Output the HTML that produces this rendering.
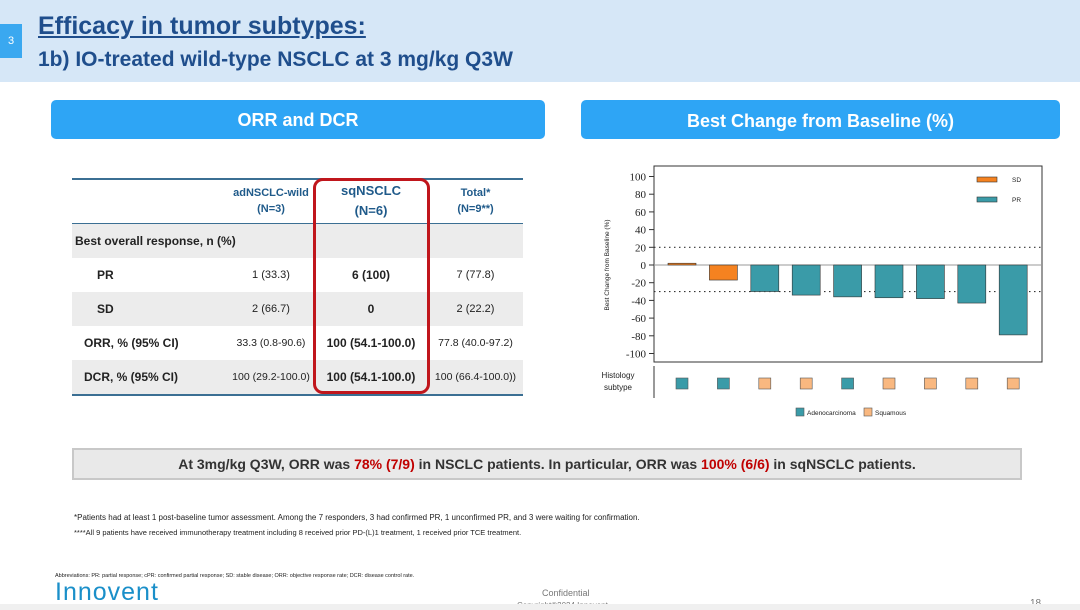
<!DOCTYPE html>
<html><head><meta charset="utf-8"><style>
body{margin:0;width:1080px;height:610px;background:#fff;position:relative;overflow:hidden;font-family:"Liberation Sans",sans-serif}
.abs{position:absolute}
.hdr{left:0;top:0;width:1080px;height:82px;background:#d6e7f7}
.btn{background:#2ea5f5;color:#fff;font-weight:bold;font-size:18px;text-align:center;border-radius:5px}
table{border-collapse:collapse;font-size:12px;color:#222}
td{padding:0;height:34px}
</style></head><body>
<div class="abs hdr"></div>
<div class="abs" style="left:0;top:24px;width:22px;height:34px;background:#3aa8f0;color:#fff;font-size:11px;line-height:34px;text-align:center">3</div>
<div class="abs" style="left:38px;top:12px;font-size:25px;font-weight:bold;color:#1f4e8c;text-decoration:underline">Efficacy in tumor subtypes:</div>
<div class="abs" style="left:38px;top:48px;font-size:21px;font-weight:bold;color:#1f4e8c">1b) IO-treated wild-type NSCLC at 3 mg/kg Q3W</div>
<div class="abs btn" style="left:51px;top:100px;width:494px;height:39px;line-height:41px">ORR and DCR</div>
<div class="abs btn" style="left:581px;top:100px;width:479px;height:39px;line-height:43px">Best Change from Baseline (%)</div>

<table class="abs" style="left:72px;top:178px;width:451px;border-top:2px solid #3b6f93;border-bottom:2px solid #3b6f93">
<colgroup><col style="width:156px"><col style="width:86px"><col style="width:114px"><col style="width:95px"></colgroup>
<tr style="height:44px;border-bottom:1px solid #3b6f93;color:#1f5a8a;font-weight:bold;text-align:center"><td></td><td style="font-size:11px;line-height:16px">adNSCLC-wild<br>(N=3)</td><td style="font-size:13px;line-height:20px">sqNSCLC<br>(N=6)</td><td style="font-size:11px;line-height:16px">Total*<br>(N=9**)</td></tr>
<tr style="background:#ececec;height:30px"><td colspan="4" style="font-weight:bold;padding-left:3px">Best overall response, n (%)</td></tr>
<tr><td style="font-weight:bold;padding-left:25px">PR</td><td style="text-align:center;font-size:11px">1 (33.3)</td><td style="text-align:center;font-weight:bold">6 (100)</td><td style="text-align:center;font-size:11px">7 (77.8)</td></tr>
<tr style="background:#ececec"><td style="font-weight:bold;padding-left:25px">SD</td><td style="text-align:center;font-size:11px">2 (66.7)</td><td style="text-align:center;font-weight:bold">0</td><td style="text-align:center;font-size:11px">2 (22.2)</td></tr>
<tr><td style="font-weight:bold;padding-left:12px">ORR, % (95% CI)</td><td style="text-align:center;font-size:10.5px">33.3 (0.8-90.6)</td><td style="text-align:center;font-weight:bold">100 (54.1-100.0)</td><td style="text-align:center;font-size:10.5px">77.8 (40.0-97.2)</td></tr>
<tr style="background:#ececec"><td style="font-weight:bold;padding-left:12px">DCR, % (95% CI)</td><td style="text-align:center;font-size:10.5px">100 (29.2-100.0)</td><td style="text-align:center;font-weight:bold">100 (54.1-100.0)</td><td style="text-align:center;font-size:10.5px">100 (66.4-100.0))</td></tr>
</table>
<div class="abs" style="left:313px;top:178px;width:111px;height:210px;border:3px solid #c0161c;border-radius:10px"></div>

<svg class="abs" style="left:590px;top:160px" width="460" height="270" id="chart"></svg>

<div class="abs" style="left:72px;top:448px;width:946px;height:28px;background:#e9e9e9;border:2px solid #c8c8c8;text-align:center;line-height:28px;font-size:14px;font-weight:bold;color:#333">At 3mg/kg Q3W, ORR was <span style="color:#c00000">78% (7/9)</span> in NSCLC patients. In particular, ORR was <span style="color:#c00000">100% (6/6)</span> in sqNSCLC patients.</div>
<div class="abs" style="left:74px;top:513px;font-size:8px;color:#222">*Patients had at least 1 post-baseline tumor assessment. Among the 7 responders, 3 had confirmed PR, 1 unconfirmed PR, and 3 were waiting for confirmation.</div>
<div class="abs" style="left:74px;top:528px;font-size:7.5px;color:#222">****All 9 patients have received immunotherapy treatment including 8 received prior PD-(L)1 treatment, 1 received prior TCE treatment.</div>
<div class="abs" style="left:55px;top:573px;font-size:5.5px;color:#222">Abbreviations: PR: partial response; cPR: confirmed partial response; SD: stable disease; ORR: objective response rate; DCR: disease control rate.</div>
<div class="abs" style="left:55px;top:578px;font-size:25px;color:#1a8fc9;letter-spacing:1px">Innovent</div>
<div class="abs" style="left:542px;top:588px;font-size:9px;color:#777">Confidential</div>
<div class="abs" style="left:517px;top:601px;font-size:8px;color:#777">Copyright©2024 Innovent</div>
<div class="abs" style="left:1030px;top:598px;font-size:10px;color:#777">18</div>
<div class="abs" style="left:0;top:604px;width:1080px;height:6px;background:#f0f0f0"></div>

<script>
const values=[2,-17,-30,-34,-36,-37,-38,-43,-79];
const response=["SD","SD","PR","PR","PR","PR","PR","PR","PR"];
const histology=["A","A","S","S","A","S","S","S","S"];
const ticks=[100,80,60,40,20,0,-20,-40,-60,-80,-100];
const thresholds=[20,-30];
const NS="http://www.w3.org/2000/svg",svg=document.getElementById("chart");
const L=64,R=452,T=6,B=202;
const y=v=>105-v*0.885;
const x=i=>92+i*41.4;
function mk(t,a,p){const e=document.createElementNS(NS,t);for(const k in a)e.setAttribute(k,a[k]);(p||svg).appendChild(e);return e;}
const box=mk("rect",{x:L,y:T,width:R-L,height:B-T,fill:"none",stroke:"#333","stroke-width":1});


ticks.forEach(t=>{
 const tl=mk("line",{x1:L-5,x2:L,y1:y(t),y2:y(t),stroke:"#333"});
 
 
 const lb=mk("text",{x:L-8,y:y(t)+4,"text-anchor":"end","font-size":11,"font-family":"Liberation Serif, serif",fill:"#222"});
 lb.textContent=t;
 
 
});
const yt=mk("text",{transform:"translate(19,105) rotate(-90)","text-anchor":"middle","font-size":6.5,fill:"#222"});
yt.textContent="Best Change from Baseline (%)";


const zl=mk("line",{x1:L,x2:R,y1:y(0),y2:y(0),stroke:"#999","stroke-width":1});


thresholds.forEach(t=>{
 const d=mk("line",{x1:L,x2:R,y1:y(t),y2:y(t),stroke:"#333","stroke-width":1.2,"stroke-dasharray":"1.5 3.5"});
 
 
});
values.forEach((v,i)=>{
 const top=Math.min(y(0),y(v)),h=Math.max(Math.abs(y(v)-y(0)),1.5);
 const b=mk("rect",{x:x(i)-14,y:top,width:28,height:h,fill:response[i]=="SD"?"#f58220":"#3a9ba8",stroke:"#333","stroke-width":0.6});
 
 
 const s=mk("rect",{x:x(i)-6,y:218,width:12,height:11,fill:histology[i]=="A"?"#3a9ba8":"#f9b880",stroke:"#555","stroke-width":0.6});
 
 
});
const hl=mk("line",{x1:L,x2:L,y1:206,y2:238,stroke:"#333"});


[["Histology",218],["subtype",230]].forEach(([t,yy])=>{
 const e=mk("text",{x:28,y:yy,"text-anchor":"middle","font-size":8,fill:"#222"});e.textContent=t;
 
 
});
[["SD","#f58220",20],["PR","#3a9ba8",40]].forEach(([t,c,yy])=>{
 const r=mk("rect",{x:387,y:yy-3,width:20,height:5,fill:c,stroke:"#333","stroke-width":0.6});
 
 
 const e=mk("text",{x:422,y:yy+2,"font-size":6.5,fill:"#222"});e.textContent=t;
 
 
});
[["Adenocarcinoma","#3a9ba8",206],["Squamous","#f9b880",274]].forEach(([t,c,xx])=>{
 const r=mk("rect",{x:xx,y:248,width:8,height:8,fill:c,stroke:"#555","stroke-width":0.6});
 
 
 const e=mk("text",{x:xx+11,y:255,"font-size":6.5,fill:"#222"});e.textContent=t;
 
 
});
</script>
</body></html>
